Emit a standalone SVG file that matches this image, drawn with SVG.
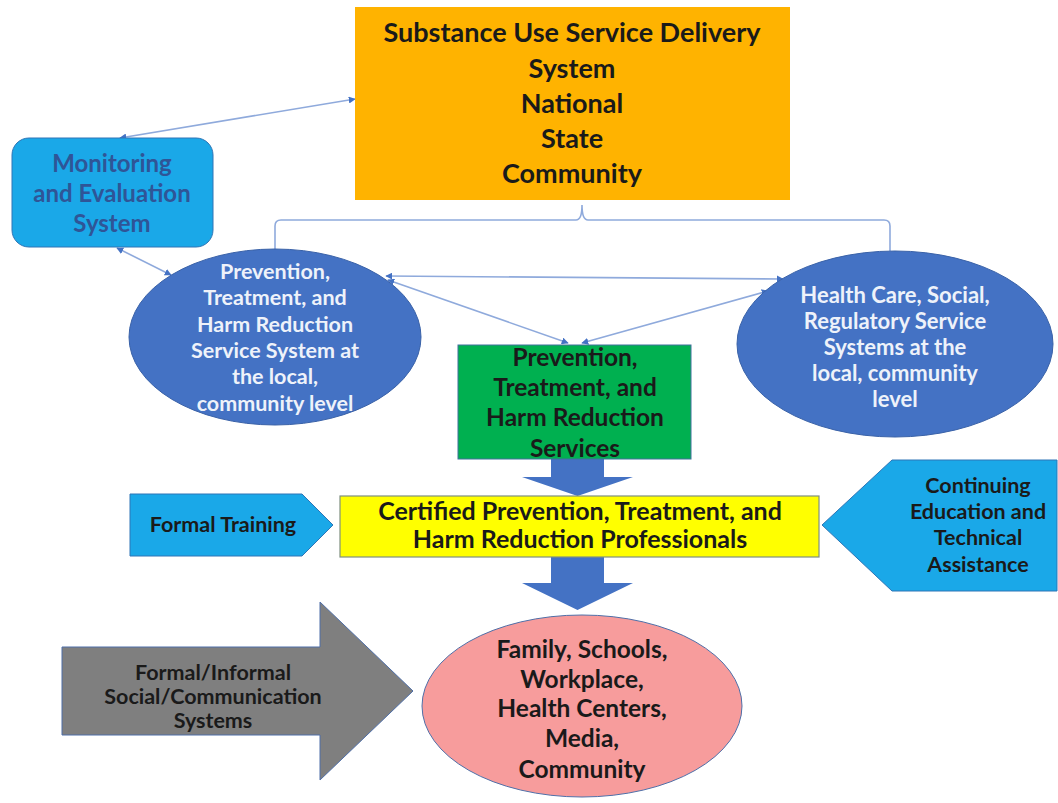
<svg xmlns="http://www.w3.org/2000/svg" width="1058" height="803" viewBox="0 0 1058 803">
<style>
text{font-family:Lato,"Open Sans","Liberation Sans",sans-serif;font-weight:bold;text-anchor:middle}
.conn{fill:none;stroke:#8FAADC;stroke-width:1.6}
.dark{fill:#1a1a1a}
.white{fill:#EEF2FA}
.mon{fill:#2F5597}
.big{fill:#4472C4}
</style>
<defs>
<marker id="ah" viewBox="0 0 10 10" refX="9" refY="5" markerWidth="7" markerHeight="7" markerUnits="userSpaceOnUse" orient="auto-start-reverse">
<path d="M0,0 L10,5 L0,10 z" fill="#4472C4"/>
</marker>
</defs>
<rect width="1058" height="803" fill="#ffffff"/>

<g id="connectors">
<line class="conn" x1="120" y1="138" x2="355" y2="99" marker-start="url(#ah)" marker-end="url(#ah)"/>
<line class="conn" x1="117" y1="248" x2="171" y2="275" marker-start="url(#ah)" marker-end="url(#ah)"/>
<path class="conn" d="M275,263 V226 Q275,220 281,220 H576 Q582,220 582,205 Q582,220 588,220 H884 Q890,220 890,226 V251"/>
<line class="conn" x1="386" y1="276" x2="783" y2="279" marker-start="url(#ah)" marker-end="url(#ah)"/>
<line class="conn" x1="388" y1="280" x2="568" y2="343" marker-start="url(#ah)" marker-end="url(#ah)"/>
<line class="conn" x1="768" y1="291" x2="582" y2="343" marker-start="url(#ah)" marker-end="url(#ah)"/>
<polygon class="big" points="551,459 604,459 604,477 633,477 577.5,496 522,477 551,477"/>
<polygon class="big" points="551,557 604,557 604,583 633,583 577.5,610 522,583 551,583"/>
</g>

<g id="delivery-system">
<rect x="355" y="7" width="435" height="193" fill="#FFB300"/>
<text class="dark" font-size="27"><tspan x="572" y="42">Substance Use Service Delivery</tspan><tspan x="572" y="78">System</tspan><tspan x="572" y="113">National</tspan><tspan x="572" y="148">State</tspan><tspan x="572" y="183">Community</tspan></text>
</g>

<g id="monitoring">
<rect x="12" y="138" width="201" height="109" rx="17" fill="#1AA8E8" stroke="#2E75B6" stroke-width="1"/>
<text class="mon" font-size="24"><tspan x="112" y="172">Monitoring</tspan><tspan x="112" y="202">and Evaluation</tspan><tspan x="112" y="232">System</tspan></text>
</g>

<g id="local-service-system">
<ellipse cx="275" cy="337" rx="146" ry="88" fill="#4472C4" stroke="#3A62A8" stroke-width="1"/>
<text class="white" font-size="21.5"><tspan x="275" y="279">Prevention,</tspan><tspan x="275" y="305">Treatment, and</tspan><tspan x="275" y="332">Harm Reduction</tspan><tspan x="275" y="358">Service System at</tspan><tspan x="275" y="384">the local,</tspan><tspan x="275" y="411">community level</tspan></text>
</g>

<g id="health-care-systems">
<ellipse cx="895" cy="344" rx="158" ry="93" fill="#4472C4" stroke="#3A62A8" stroke-width="1"/>
<text class="white" font-size="22"><tspan x="895" y="303">Health Care, Social,</tspan><tspan x="895" y="329">Regulatory Service</tspan><tspan x="895" y="355">Systems at the</tspan><tspan x="895" y="381">local, community</tspan><tspan x="895" y="407">level</tspan></text>
</g>

<g id="services">
<rect x="458" y="345" width="233" height="114" fill="#00B050" stroke="#41719C" stroke-width="1"/>
<text class="dark" font-size="24.5"><tspan x="575" y="366">Prevention,</tspan><tspan x="575" y="396">Treatment, and</tspan><tspan x="575" y="426">Harm Reduction</tspan><tspan x="575" y="457">Services</tspan></text>
</g>

<g id="professionals">
<rect x="340" y="496" width="479" height="61" fill="#FFFF00" stroke="#7F8F7F" stroke-width="1.2"/>
<text class="dark" font-size="25"><tspan x="580" y="520">Certified Prevention, Treatment, and</tspan><tspan x="580" y="548">Harm Reduction Professionals</tspan></text>
</g>

<g id="formal-training">
<polygon points="130,494 302,494 333,525 302,556 130,556" fill="#1AA8E8" stroke="#2E75B6" stroke-width="1"/>
<text class="dark" font-size="21.5" x="223" y="532">Formal Training</text>
</g>

<g id="continuing-education">
<polygon points="822,525 892,460 1057,460 1057,591 892,591" fill="#1AA8E8" stroke="#2E75B6" stroke-width="1"/>
<text class="dark" font-size="21.5"><tspan x="978" y="493">Continuing</tspan><tspan x="978" y="519">Education and</tspan><tspan x="978" y="545">Technical</tspan><tspan x="978" y="572">Assistance</tspan></text>
</g>

<g id="social-communication">
<polygon points="62,647 320,647 320,602 413,691 320,780 320,735 62,735" fill="#7F7F7F" stroke="#4F6FA8" stroke-width="1"/>
<text class="dark" font-size="21.5"><tspan x="213" y="680">Formal/Informal</tspan><tspan x="213" y="704">Social/Communication</tspan><tspan x="213" y="728">Systems</tspan></text>
</g>

<g id="community-settings">
<ellipse cx="582" cy="706" rx="160" ry="91" fill="#F79C9C" stroke="#4F6FA8" stroke-width="1"/>
<text class="dark" font-size="24.5"><tspan x="582" y="658">Family, Schools,</tspan><tspan x="582" y="688">Workplace,</tspan><tspan x="582" y="717">Health Centers,</tspan><tspan x="582" y="747">Media,</tspan><tspan x="582" y="778">Community</tspan></text>
</g>
</svg>
